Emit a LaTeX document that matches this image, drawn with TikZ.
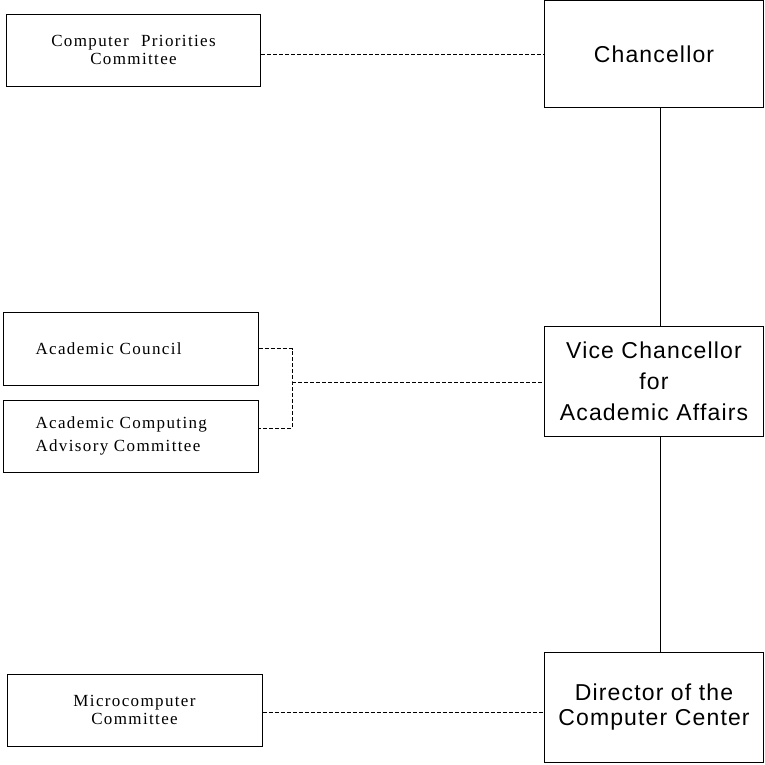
\documentclass[tikz,border=0pt]{standalone}
\usepackage{fontspec}
\newfontfamily\boxserif[WordSpace=2.2,LetterSpace=8]{Liberation Serif}
\newfontfamily\boxsans[LetterSpace=5]{Liberation Sans}
\usetikzlibrary{positioning}
\colorlet{background}{white}
\colorlet{penColor}{black}
\tikzset{
  committee/.style={draw=penColor,line width=1pt,minimum width=254pt,minimum height=72pt,align=center,font={\boxserif\fontsize{17}{18}\selectfont}},
  office/.style={draw=penColor,line width=1pt,minimum width=219pt,minimum height=110pt,align=center,font={\boxsans\fontsize{23}{31}\selectfont}},
  advise/.style={penColor,line width=.8pt,dash pattern=on 4pt off 2pt},
  report/.style={penColor,line width=.8pt}
}

\begin{document}
\begin{tikzpicture}[x=1pt,y=-1pt]
				\useasboundingbox[fill=background] (0,0) rectangle (765,764);
				% offices on the right
				\node [office,minimum height=107pt] (chan) at (654,54) {Chancellor};
				\node [office] (vc) at (654,381) {Vice Chancellor\\for\\Academic Affairs};
				\node [office,font={\boxsans\fontsize{23}{25}\selectfont}] (dir) at (654,707.5) {Director of the\\Computer Center};
				% committees on the left
				\node [committee] (cpc) at (133.5,50) {Computer Priorities\\Committee};
				\node [committee,minimum width=255pt,minimum height=73pt,text width=190pt,inner xsep=32.5pt,align=left] (ac) at (130.5,348.5) {Academic Council};
				\node [committee,minimum width=255pt,text width=190pt,inner xsep=32.5pt,align=left,font={\boxserif\fontsize{17}{23}\selectfont}] (acac) at (130.5,436) {Academic Computing\\Advisory Committee};
				\node [committee,minimum width=255pt] (mc) at (134.5,710) {Microcomputer\\Committee};
				% lines of report
				\draw [report] ([xshift=6pt]chan.south) -- ([xshift=6pt]vc.north);
				\draw [report] ([xshift=6pt]vc.south) -- ([xshift=6pt]dir.north);
				% advisory links
				\coordinate (join) at (292,382);
				\draw [advise] (cpc.east |- chan.west) -- (chan.west);
				\draw [advise] (ac.east) -| (join) |- ([yshift=8pt]acac.east);
				\draw [advise] (join) -- (join -| vc.west);
				\draw [advise] ([yshift=-2pt]mc.east) -- ([yshift=-2pt]mc.east -| dir.west);
\end{tikzpicture}
\end{document}
